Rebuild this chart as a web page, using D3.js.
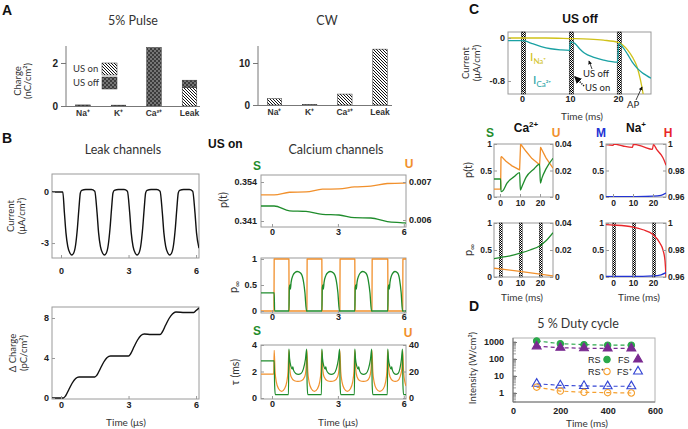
<!DOCTYPE html>
<html><head><meta charset="utf-8">
<script src="https://cdn.jsdelivr.net/npm/d3@7"></script>
<style>body{margin:0;background:#fff}svg{display:block}</style>
</head><body>
<svg id="c" width="688" height="429"></svg>
<script>
// ================= DATA =================
const ionCats = ["Na⁺","K⁺","Ca²⁺","Leak"];
const pulseUsOn  = [0, 0, 0, 0.87];
const pulseUsOff = [0.05, 0.04, 2.72, 0.33];
const cwUsOn  = [1.5, 0.08, 2.6, 13.3];
const cwUsOff = [0, 0, 0, 0];
const pulseTicks = [0, 2], cwTicks = [0, 10];

const usTimeTicks = [0, 3, 6];
const leakCurrent = [[-0.4,0],[0.08,0],[0.15,-1.2],[0.22,-2.4],[0.3,-3.2],[0.4,-3.6],[0.48,-3.7],[0.56,-3.6],[0.65,-3.1],[0.73,-2.1],[0.8,-0.9],[0.86,-0.05],[0.92,0.1],[1.1,0.15],[1.35,0.15],[1.5,0.05],[1.6,-1.2],[1.67,-2.4],[1.75,-3.2],[1.85,-3.6],[1.93,-3.7],[2.01,-3.6],[2.1,-3.1],[2.18,-2.1],[2.25,-0.9],[2.31,-0.05],[2.37,0.1],[2.55,0.15],[2.8,0.15],[2.95,0.05],[3.05,-1.2],[3.12,-2.4],[3.2,-3.2],[3.3,-3.6],[3.38,-3.7],[3.46,-3.6],[3.55,-3.1],[3.63,-2.1],[3.7,-0.9],[3.76,-0.05],[3.82,0.1],[4.0,0.15],[4.25,0.15],[4.4,0.05],[4.5,-1.2],[4.57,-2.4],[4.65,-3.2],[4.75,-3.6],[4.83,-3.7],[4.91,-3.6],[5.0,-3.1],[5.08,-2.1],[5.15,-0.9],[5.21,-0.05],[5.27,0.1],[5.45,0.15],[5.7,0.15],[5.85,0.05],[5.95,-1.2],[6.02,-2.4],[6.13,-3.3]];
const leakCharge = [[-0.4,0],[0.1,0],[0.2,0.2],[0.35,0.85],[0.5,1.5],[0.65,1.95],[0.8,2.1],[1.5,2.1],[1.6,2.3],[1.75,2.95],[1.9,3.6],[2.05,4.05],[2.2,4.2],[3.0,4.2],[3.1,4.45],[3.25,5.15],[3.4,5.8],[3.55,6.25],[3.7,6.4],[4.0,6.35],[4.4,6.35],[4.5,6.6],[4.65,7.3],[4.8,7.95],[4.95,8.4],[5.1,8.6],[5.5,8.55],[5.9,8.55],[6.0,8.75],[6.13,9.0]];

const caPtS = [[-0.5,0.346],[0.1,0.346],[0.8,0.3444],[1.55,0.3442],[2.3,0.3432],[3.05,0.343],[3.75,0.3421],[4.5,0.342],[5.25,0.3408],[5.95,0.3404],[6.1,0.3403]];
const caPtU = [[-0.5,0.00666],[0.1,0.00666],[0.8,0.00673],[1.55,0.00674],[2.3,0.00681],[3.05,0.00682],[3.75,0.00687],[4.5,0.00689],[5.25,0.00696],[5.95,0.00697],[6.1,0.00698]];
const caPinfU = [[-0.5,0],[0.09,0],[0.1,1],[0.77,1],[0.78,0],[1.59,0],[1.6,1],[2.27,1],[2.28,0],[3.09,0],[3.1,1],[3.77,1],[3.78,0],[4.55,0],[4.56,1],[5.27,1],[5.28,0],[5.95,0],[5.96,1],[6.1,1]];
const caPinfS = [[-0.5,0.35],[0.1,0.35],[0.12,0],[0.77,0],[0.79,0.45],[0.82,0.5],[0.84,0.42],[0.87,0.55],[0.95,0.68],[1.05,0.74],[1.15,0.76],[1.3,0.73],[1.42,0.6],[1.5,0.35],[1.57,0],[2.27,0],[2.29,0.45],[2.32,0.5],[2.34,0.42],[2.37,0.55],[2.45,0.68],[2.55,0.74],[2.65,0.76],[2.8,0.73],[2.92,0.6],[3.0,0.35],[3.07,0],[3.77,0],[3.79,0.45],[3.82,0.5],[3.84,0.42],[3.87,0.55],[3.95,0.68],[4.04,0.74],[4.13,0.76],[4.27,0.73],[4.38,0.6],[4.46,0.35],[4.53,0],[5.27,0],[5.29,0.45],[5.32,0.5],[5.34,0.42],[5.37,0.55],[5.44,0.68],[5.52,0.74],[5.6,0.76],[5.72,0.73],[5.81,0.6],[5.88,0.35],[5.94,0],[6.1,0]];
const caTauU = [[-0.5,18],[0.08,18],[0.1,36],[0.14,20],[0.2,12],[0.3,7],[0.44,5],[0.57,7],[0.67,12],[0.73,20],[0.77,36],[0.81,22],[0.87,16],[1.02,13],[1.18,12.5],[1.34,13],[1.49,16],[1.55,22],[1.59,36],[1.63,20],[1.69,12],[1.79,7],[1.93,5],[2.07,7],[2.17,12],[2.23,20],[2.27,36],[2.31,22],[2.37,16],[2.52,13],[2.68,12.5],[2.84,13],[2.99,16],[3.05,22],[3.09,36],[3.13,20],[3.19,12],[3.29,7],[3.43,5],[3.57,7],[3.67,12],[3.73,20],[3.77,36],[3.81,22],[3.87,16],[4.0,13],[4.16,12.5],[4.32,13],[4.45,16],[4.51,22],[4.55,36],[4.59,20],[4.65,12],[4.75,7],[4.91,5],[5.07,7],[5.17,12],[5.23,20],[5.27,36],[5.31,22],[5.37,16],[5.5,13],[5.61,12.5],[5.72,13],[5.83,16],[5.91,22],[5.95,36],[5.99,20],[6.05,12],[6.1,9]];
const caTauS = [[-0.5,2.8],[0.1,2.8],[0.12,1.0],[0.15,0.25],[0.75,0.25],[0.77,3.7],[0.8,3.0],[0.86,2.4],[0.92,2.2],[0.95,2.35],[0.98,2.1],[1.08,1.85],[1.2,1.78],[1.32,1.85],[1.43,2.2],[1.52,2.9],[1.58,3.7],[1.6,1.0],[1.63,0.25],[2.25,0.25],[2.27,3.7],[2.3,3.0],[2.36,2.4],[2.42,2.2],[2.45,2.35],[2.48,2.1],[2.58,1.85],[2.7,1.78],[2.82,1.85],[2.93,2.2],[3.02,2.9],[3.08,3.7],[3.1,1.0],[3.13,0.25],[3.75,0.25],[3.77,3.7],[3.8,3.0],[3.86,2.4],[3.92,2.2],[3.95,2.35],[3.98,2.1],[4.06,1.85],[4.17,1.78],[4.28,1.85],[4.39,2.2],[4.48,2.9],[4.54,3.7],[4.56,1.0],[4.59,0.25],[5.25,0.25],[5.27,3.7],[5.3,3.0],[5.36,2.4],[5.42,2.2],[5.45,2.35],[5.48,2.1],[5.56,1.85],[5.65,1.78],[5.74,1.85],[5.82,2.2],[5.89,2.9],[5.94,3.7],[5.96,1.0],[5.99,0.25],[6.1,0.25]];

const msTicks = [0, 10, 20];
const usBandTimes = [0, 10, 20];
const cCurrNa = [[-2.9,0],[5,0],[10,-0.01],[14,-0.02],[17,-0.04],[20,-0.08],[21,-0.13],[22,-0.22],[23,-0.35],[24,-0.54],[24.7,-0.78],[25.3,-1.06]];
const cCurrCa = [[-2.9,-0.05],[0,-0.05],[0.8,-0.06],[2,-0.1],[4,-0.16],[6,-0.2],[8,-0.22],[9.9,-0.23],[10.1,-0.07],[11,-0.1],[12,-0.2],[13,-0.28],[15,-0.36],[17,-0.41],[19.9,-0.45],[20.2,-0.1],[21,-0.17],[22,-0.3],[23,-0.45],[24,-0.56],[25,-0.64],[26,-0.7],[26.9,-0.75]];
const cCaPtS = [[-3,0.34],[0.3,0.34],[0.5,0.1],[1.5,0.12],[3.5,0.26],[7,0.38],[9.8,0.46],[10.2,0.13],[11,0.2],[13,0.37],[17,0.53],[19.8,0.62],[20.2,0.26],[21,0.36],[23,0.53],[26.5,0.73]];
const cCaPtU = [[-3,0.006],[0.3,0.006],[0.5,0.03],[0.8,0.0305],[3,0.027],[6,0.0235],[9.8,0.0205],[10.3,0.04],[13,0.0345],[16,0.029],[19.8,0.0243],[20.3,0.0375],[23,0.0295],[26.5,0.0217]];
const cNaPtM = [[-3.5,0.005],[10,0.008],[20,0.015],[24,0.03],[26.5,0.075]];
const cNaPtH = [[-3.5,0.9995],[0,0.999],[0.4,1.0],[5,0.9985],[9.7,0.9975],[10.2,0.9998],[15,0.998],[19.7,0.996],[20.2,0.9995],[22,0.9955],[24,0.992],[25.5,0.988],[26.5,0.984]];
const cCaPinfS = [[-3,0.34],[0,0.36],[5,0.39],[10,0.44],[15,0.5],[20,0.58],[23,0.67],[26.5,0.82]];
const cCaPinfU = [[-3,0.0065],[0,0.006],[10,0.0042],[20,0.0022],[26.5,0.0008]];
const cNaPinfM = [[-3.5,0.01],[10,0.01],[20,0.02],[24,0.04],[26.5,0.08]];
const cNaPinfH = [[-3.5,0.9988],[0,0.9985],[10,0.997],[15,0.995],[20,0.9915],[23.5,0.985],[25,0.98],[26,0.972],[26.5,0.96]];

const dutyTimes = [100, 200, 300, 400, 500];
const rsInt = [1150, 800, 700, 650, 650];
const fsInt = [560, 460, 430, 420, 420];
const rsPlusInt = [2.2, 1.3, 1.1, 1.05, 1.0];
const fsPlusInt = [3.5, 2.8, 2.6, 2.5, 2.5];
const dutyXTicks = [0, 200, 400, 600];
const dutyYTicks = [1, 10, 100, 1000];

// ================= STYLE =================
const FB = "'Liberation Sans', Arial, sans-serif";
const FL = "Lato, 'Open Sans', sans-serif";
const GREEN="#1f8c2c", ORANGE="#f1902c", RED="#e8262a", BLUE="#2233d4", YEL="#d0c21a", TEAL="#1aa1a3";

const svg = d3.select("#c");
svg.append("rect").attr("width",688).attr("height",429).attr("fill","#fff");
const defs = svg.append("defs");
{
  const p = defs.append("pattern").attr("id","hatchOn").attr("patternUnits","userSpaceOnUse").attr("width",3).attr("height",3);
  p.append("rect").attr("width",3).attr("height",3).attr("fill","#fff");
  p.append("path").attr("d","M0,0L3,3M-1,2L1,4M2,-1L4,1").attr("stroke","#111").attr("stroke-width",1);
  const q = defs.append("pattern").attr("id","offPat").attr("patternUnits","userSpaceOnUse").attr("width",4).attr("height",4);
  q.append("rect").attr("width",4).attr("height",4).attr("fill","#3c3c3c");
  q.append("rect").attr("width",2).attr("height",2).attr("fill","#767676");
  q.append("rect").attr("x",2).attr("y",2).attr("width",2).attr("height",2).attr("fill","#767676");
  const c = defs.append("pattern").attr("id","checker").attr("patternUnits","userSpaceOnUse").attr("width",2).attr("height",2);
  c.append("rect").attr("width",2).attr("height",2).attr("fill","#fff");
  c.append("rect").attr("width",1).attr("height",1).attr("fill","#000");
  c.append("rect").attr("x",1).attr("y",1).attr("width",1).attr("height",1).attr("fill","#000");
  const m = defs.append("marker").attr("id","arr").attr("viewBox","0 0 6 6").attr("refX",5).attr("refY",3)
    .attr("markerWidth",5).attr("markerHeight",5).attr("orient","auto");
  m.append("path").attr("d","M0,0L6,3L0,6z").attr("fill","#111");
}

function rich(x,y,parts,o={}){
  const t = svg.append("text").attr("x",x).attr("y",y).attr("font-family",o.family||FL)
    .attr("font-size",o.size||10).attr("fill",o.color||"#333").attr("font-weight",o.weight||"normal")
    .attr("text-anchor",o.anchor||"start");
  if(o.rotate) t.attr("transform",`rotate(-90,${x},${y})`);
  (typeof parts==="string"?[[parts]]:parts).forEach(p=>{
    const s=t.append("tspan").text(p[0]);
    if(p[1]){ if(p[1].dy!=null) s.attr("dy",p[1].dy); if(p[1].size) s.attr("font-size",p[1].size); if(p[1].weight) s.attr("font-weight",p[1].weight);}
  });
  return t;
}
let clipN=0;
function box(x0,y0,x1,y1,stroke){
  const id="cl"+(clipN++);
  defs.append("clipPath").attr("id",id).append("rect").attr("x",x0).attr("y",y0).attr("width",x1-x0).attr("height",y1-y0);
  svg.append("rect").attr("x",x0).attr("y",y0).attr("width",x1-x0).attr("height",y1-y0)
    .attr("fill","none").attr("stroke",stroke||"#9a9a9a").attr("stroke-width",1);
  return id;
}
function plot(data,xs,ys,color,clip,o={}){
  svg.append("path").datum(data).attr("fill","none").attr("stroke",color).attr("stroke-width",o.w||1.3)
    .attr("stroke-linejoin","round")
    .attr("clip-path",clip?`url(#${clip})`:null)
    .attr("d",d3.line().x(d=>xs(d[0])).y(d=>ys(d[1])).curve(o.curve||d3.curveMonotoneX));
}
function ax(kind,scale,tx,ty,vals,fmt,o={}){
  const gen = kind==="b"?d3.axisBottom:kind==="l"?d3.axisLeft:d3.axisRight;
  const a = gen(scale).tickValues(vals).tickFormat(fmt||(d=>String(d))).tickSizeInner(o.ts??-3).tickSizeOuter(0).tickPadding(o.pad??3);
  const g = svg.append("g").attr("transform",`translate(${tx},${ty})`).call(a);
  if(!o.domain) g.select(".domain").remove(); else g.select(".domain").attr("stroke","#555");
  g.selectAll("line").attr("stroke",o.tc||"#999");
  g.selectAll("text").attr("font-size",o.fs||9).attr("font-weight","bold").attr("fill","#222").attr("font-family",FB);
  return g;
}

// ================= PANEL LETTERS =================
[["A",2,15],["B",2,143],["C",469,14],["D",469,311]].forEach(d=>
  rich(d[1],d[2],d[0],{family:FB,weight:"bold",size:14,color:"#111"}));

// ================= PANEL A =================
function barChart(on,off,range,y0,yTop,ymax,ticks,axisX,baseEnd,title,titleX){
  const x = d3.scaleBand().domain(ionCats).range(range).paddingInner(0.59).paddingOuter(0.295);
  const y = d3.scaleLinear().domain([0,ymax]).range([y0,yTop]);
  const g = svg.append("g");
  g.selectAll(".on").data(ionCats).join("rect").attr("x",d=>x(d)).attr("width",x.bandwidth())
    .attr("y",(d,i)=>y(on[i])).attr("height",(d,i)=>y(0)-y(on[i]))
    .attr("fill","url(#hatchOn)").attr("stroke","#333").attr("stroke-width",0.5)
    .attr("display",(d,i)=>on[i]>0?null:"none");
  g.selectAll(".off").data(ionCats).join("rect").attr("x",d=>x(d)).attr("width",x.bandwidth())
    .attr("y",(d,i)=>y(on[i]+off[i])).attr("height",(d,i)=>y(on[i])-y(on[i]+off[i]))
    .attr("fill","url(#offPat)").attr("stroke","#333").attr("stroke-width",0.5)
    .attr("display",(d,i)=>off[i]>0?null:"none");
  svg.append("line").attr("x1",axisX).attr("x2",baseEnd).attr("y1",y0+0.5).attr("y2",y0+0.5).attr("stroke","#777");
  svg.append("line").attr("x1",axisX).attr("x2",axisX).attr("y1",yTop).attr("y2",y0).attr("stroke","#777");
  ax("l",y,axisX,0,ticks,null,{ts:5,pad:3,fs:10,tc:"#777"});
  g.selectAll(".cl").data(ionCats).join("text").attr("x",d=>x(d)+x.bandwidth()/2).attr("y",y0+10)
    .attr("text-anchor","middle").attr("font-family",FB).attr("font-weight","bold").attr("font-size",8.5).attr("fill","#333").text(d=>d);
  rich(titleX,25,title,{anchor:"middle",size:12.5,color:"#333"});
}
barChart(pulseUsOn,pulseUsOff,[65.25,207.25],106,46,2.79,pulseTicks,66,200,"5% Pulse",133);
barChart(cwUsOn,cwUsOff,[256.9,397.6],105,46,14.05,cwTicks,258,392,"CW",327);
rich(21,81,"Charge",{rotate:true,anchor:"middle",size:9.5});
rich(31,81,"(nC/cm²)",{rotate:true,anchor:"middle",size:9.5});
// legend
rich(73,72,"US on",{size:9.5});
rich(73,86,"US off",{size:9.5});
svg.append("rect").attr("x",102).attr("y",63).attr("width",15).attr("height",12).attr("fill","url(#hatchOn)").attr("stroke","#333").attr("stroke-width",0.5);
svg.append("rect").attr("x",102).attr("y",77).attr("width",15).attr("height",12).attr("fill","url(#offPat)").attr("stroke","#333").attr("stroke-width",0.5);

// ================= PANEL B left =================
rich(123,154,"Leak channels",{anchor:"middle",size:12.5});
const bxL = d3.scaleLinear().domain([-0.4,6.13]).range([52,199]);
const byCur = d3.scaleLinear().domain([-3.88,1.06]).range([258,174]);
const clB1 = box(52,174,199,258);
plot(leakCurrent,bxL,byCur,"#111",clB1,{w:1.4});
ax("b",bxL,0,258,usTimeTicks,null,{pad:10});
ax("l",byCur,52,0,[0,-3],d=>String(d),{pad:3});
rich(14,216,"Current",{rotate:true,anchor:"middle",size:9.5});
rich(25,216,"(μA/cm²)",{rotate:true,anchor:"middle",size:9.5});

const byChg = d3.scaleLinear().domain([-0.1,9.1]).range([399,307]);
const clB2 = box(52,307,199,399);
plot(leakCharge,bxL,byChg,"#111",clB2,{w:1.4});
ax("b",bxL,0,399,usTimeTicks,null,{pad:3});
ax("l",byChg,52,0,[0,4,8],null,{pad:3});
rich(16,353,"Δ Charge",{rotate:true,anchor:"middle",size:9.5});
rich(27,353,"(pC/cm²)",{rotate:true,anchor:"middle",size:9.5});
rich(126,426,"Time (μs)",{anchor:"middle",size:10});

// ================= PANEL B right =================
rich(208,148,"US on",{family:FB,weight:"bold",size:12,color:"#111"});
rich(336,154,"Calcium channels",{anchor:"middle",size:12.5});
const bxR = d3.scaleLinear().domain([-0.5,6.1]).range([261,406]);
// chart 1
const yS1 = d3.scaleLinear().domain([0.341,0.354]).range([221,182]);
const yU1 = d3.scaleLinear().domain([0.006,0.007]).range([220,182]);
const cl1 = box(261,175,406,227);
plot(caPtU,bxR,yU1,ORANGE,cl1);
plot(caPtS,bxR,yS1,GREEN,cl1);
ax("b",bxR,0,227,usTimeTicks,null,{pad:2});
ax("l",yS1,261,0,[0.341,0.354],d3.format(".3f"),{pad:4});
ax("r",yU1,406,0,[0.006,0.007],d3.format(".3f"),{pad:3});
rich(257,170,"S",{family:FB,weight:"bold",size:12,color:GREEN,anchor:"middle"});
rich(409,168,"U",{family:FB,weight:"bold",size:12,color:ORANGE,anchor:"middle"});
rich(227,200,"p(t)",{rotate:true,anchor:"middle",size:11});
// chart 2
const yP2 = d3.scaleLinear().domain([0,1]).range([311,259]);
const cl2 = box(261,258,406,313);
plot(caPinfU,bxR,yP2,ORANGE,cl2,{curve:d3.curveLinear});
plot(caPinfS,bxR,yP2,GREEN,cl2);
ax("b",bxR,0,313,usTimeTicks,null,{pad:1});
ax("l",yP2,261,0,[0,0.5,1],null,{pad:4});
rich(237,287,[["p"],["∞",{dy:3,size:8}]],{rotate:true,anchor:"middle",size:11});
// chart 3
const yT3 = d3.scaleLinear().domain([0,4]).range([398,345]);
const yT3r = d3.scaleLinear().domain([0,40]).range([398,345]);
const cl3 = box(261,345,406,399);
plot(caTauU,bxR,yT3r,ORANGE,cl3,{w:1.2});
plot(caTauS,bxR,yT3,GREEN,cl3,{w:1.2});
ax("b",bxR,0,399,usTimeTicks,null,{pad:2});
ax("l",yT3,261,0,[0,2,4],null,{pad:4});
ax("r",yT3r,406,0,[0,20,40],null,{pad:3});
rich(257,335,"S",{family:FB,weight:"bold",size:12,color:GREEN,anchor:"middle"});
rich(408,337,"U",{family:FB,weight:"bold",size:12,color:ORANGE,anchor:"middle"});
rich(239,372,"τ (ms)",{rotate:true,anchor:"middle",size:10.5});
rich(338,426,"Time (μs)",{anchor:"middle",size:10});

// ================= PANEL C =================
rich(580,23,"US off",{family:FB,weight:"bold",size:12,color:"#111",anchor:"middle"});
const cxC = d3.scaleLinear().domain([-2.92,26.9]).range([508,651]);
const cyC = d3.scaleLinear().domain([-1.042,0.112]).range([94,32]);
const clC = box(508,32,651,94);
svg.append("g").selectAll("rect").data(usBandTimes).join("rect")
  .attr("x",d=>cxC(d-0.15)).attr("width",d=>cxC(d+0.75)-cxC(d-0.15)).attr("y",32).attr("height",62)
  .attr("fill","url(#checker)").attr("stroke","#111").attr("stroke-width",0.5);
plot(cCurrNa,cxC,cyC,YEL,clC);
plot(cCurrCa,cxC,cyC,TEAL,clC);
ax("b",cxC,0,94,msTicks,null,{pad:2});
ax("l",cyC,508,0,[0,-0.8],d=>d===0?"0":"-0.8",{pad:3});
rich(469,63,"Current",{rotate:true,anchor:"middle",size:9.5});
rich(480,63,"(μA/cm²)",{rotate:true,anchor:"middle",size:9.5});
rich(582,120,"Time (ms)",{anchor:"middle",size:10});
rich(530,61,[["I"],["Na⁺",{dy:3,size:8}]],{size:12,color:YEL});
rich(533,84,[["I"],["Ca²⁺",{dy:3,size:8}]],{size:12,color:TEAL});
rich(583,77,"US off",{size:9.5,color:"#222"});
rich(585,91,"US on",{size:9.5,color:"#222"});
rich(627,108,"AP",{size:9.5,color:"#222"});
svg.append("line").attr("x1",592).attr("y1",69).attr("x2",589).attr("y2",61).attr("stroke","#111").attr("stroke-width",0.8).attr("marker-end","url(#arr)");
svg.append("line").attr("x1",584).attr("y1",86).attr("x2",575).attr("y2",77).attr("stroke","#111").attr("stroke-width",1.5).attr("stroke-dasharray","1.2,1.2").attr("marker-end","url(#arr)");
svg.append("line").attr("x1",636).attr("y1",100).attr("x2",642).attr("y2",87).attr("stroke","#111").attr("stroke-width",0.8).attr("marker-end","url(#arr)");

// small charts
rich(526,132,[["Ca"],["2+",{dy:-5,size:8}]],{family:FB,weight:"bold",size:12,color:"#111",anchor:"middle"});
rich(636,132,[["Na"],["+",{dy:-5,size:8}]],{family:FB,weight:"bold",size:12,color:"#111",anchor:"middle"});
rich(490,137,"S",{family:FB,weight:"bold",size:12,color:GREEN,anchor:"middle"});
rich(556,137,"U",{family:FB,weight:"bold",size:12,color:ORANGE,anchor:"middle"});
rich(601,137,"M",{family:FB,weight:"bold",size:12,color:BLUE,anchor:"middle"});
rich(668,137,"H",{family:FB,weight:"bold",size:12,color:RED,anchor:"middle"});

const cxCa = d3.scaleLinear().domain([-3,26.5]).range([494,553]);
const cxNa = d3.scaleLinear().domain([-3.5,26.5]).range([606,666]);
const yPt = d3.scaleLinear().domain([0,1]).range([197,144]);
const yPtCa = d3.scaleLinear().domain([0,0.04]).range([197,144]);
const yPtNa = d3.scaleLinear().domain([0.96,1]).range([197,144]);
const yPi = d3.scaleLinear().domain([0,1]).range([277,223]);
const yPiCa = d3.scaleLinear().domain([0,0.04]).range([277,223]);
const yPiNa = d3.scaleLinear().domain([0.96,1]).range([277,223]);
const fmtR = d=>String(d);
// Ca p(t)
let cl = box(494,144,553,197);
plot(cCaPtU,cxCa,yPtCa,ORANGE,cl,{curve:d3.curveLinear});
plot(cCaPtS,cxCa,yPt,GREEN,cl);
ax("b",cxCa,0,197,msTicks,null,{pad:3,fs:8.5});
ax("l",yPt,494,0,[0,0.5,1],null,{pad:2,fs:8.5});
ax("r",yPtCa,553,0,[0,0.02,0.04],fmtR,{pad:2,fs:8.5});
rich(472,170,"p(t)",{rotate:true,anchor:"middle",size:11});
// Na p(t)
cl = box(606,144,666,197);
plot(cNaPtH,cxNa,yPtNa,RED,cl);
plot(cNaPtM,cxNa,yPt,BLUE,cl);
ax("b",cxNa,0,197,msTicks,null,{pad:3,fs:8.5});
ax("l",yPt,606,0,[0,0.5,1],null,{pad:2,fs:8.5});
ax("r",yPtNa,666,0,[0.96,0.98,1],fmtR,{pad:2,fs:8.5});
// Ca p_inf
cl = box(494,223,553,277);
svg.append("g").selectAll("rect").data(usBandTimes).join("rect")
  .attr("x",d=>cxCa(d-0.4)).attr("width",d=>cxCa(d+1.1)-cxCa(d-0.4)).attr("y",223).attr("height",54)
  .attr("fill","url(#checker)").attr("stroke","#111").attr("stroke-width",0.4);
plot(cCaPinfU,cxCa,yPiCa,ORANGE,cl);
plot(cCaPinfS,cxCa,yPi,GREEN,cl);
ax("b",cxCa,0,277,msTicks,null,{pad:3,fs:8.5});
ax("l",yPi,494,0,[0,0.5,1],null,{pad:2,fs:8.5});
ax("r",yPiCa,553,0,[0,0.02,0.04],fmtR,{pad:2,fs:8.5});
rich(472,250,[["p"],["∞",{dy:3,size:8}]],{rotate:true,anchor:"middle",size:11});
rich(522,301,"Time (ms)",{anchor:"middle",size:10});
// Na p_inf
cl = box(606,223,666,277);
svg.append("g").selectAll("rect").data(usBandTimes).join("rect")
  .attr("x",d=>cxNa(d-0.2)).attr("width",d=>cxNa(d+1.3)-cxNa(d-0.2)).attr("y",223).attr("height",54)
  .attr("fill","url(#checker)").attr("stroke","#111").attr("stroke-width",0.4);
plot(cNaPinfH,cxNa,yPiNa,RED,cl);
plot(cNaPinfM,cxNa,yPi,BLUE,cl);
ax("b",cxNa,0,277,msTicks,null,{pad:3,fs:8.5});
ax("l",yPi,606,0,[0,0.5,1],null,{pad:2,fs:8.5});
ax("r",yPiNa,666,0,[0.96,0.98,1],fmtR,{pad:2,fs:8.5});
rich(639,301,"Time (ms)",{anchor:"middle",size:10});

// ================= PANEL D =================
rich(578,328,"5 % Duty cycle",{anchor:"middle",size:12.5});
const dx = d3.scaleLinear().domain([0,600]).range([513,655]);
const dy = d3.scaleLog().domain([0.2955,1718]).range([402,338]);
box(513,338,655,402,"#b0b0b0");
svg.append("line").attr("x1",513).attr("x2",655).attr("y1",402).attr("y2",402).attr("stroke","#777");
svg.append("line").attr("x1",513).attr("x2",513).attr("y1",338).attr("y2",402).attr("stroke","#777");
const minor = dy.ticks(20).filter(v=>v>=0.3&&v<=1700);
svg.append("g").selectAll("line").data(minor).join("line").attr("x1",513).attr("x2",516)
  .attr("y1",d=>dy(d)).attr("y2",d=>dy(d)).attr("stroke","#777").attr("stroke-width",0.7);
ax("b",dx,0,402,dutyXTicks,null,{pad:6,ts:0});
ax("l",dy,513,0,dutyYTicks,d3.format("d"),{pad:9,ts:-4,tc:"#777"});
rich(476,368,"Intensity (W/cm²)",{rotate:true,anchor:"middle",size:9.5});
rich(587,427,"Time (ms)",{anchor:"middle",size:10});
const series = [
  {v:rsInt,c:"#2aa84a",shape:"circle",fill:true},
  {v:fsInt,c:"#7a2a90",shape:"tri",fill:true},
  {v:fsPlusInt,c:"#3344d4",shape:"tri",fill:false},
  {v:rsPlusInt,c:"#f5a030",shape:"circle",fill:false}];
const sym = {circle:d3.symbol().type(d3.symbolCircle).size(32), tri:d3.symbol().type(d3.symbolTriangle).size(34)};
series.forEach(s=>{
  const pts = dutyTimes.map((t,i)=>[t,s.v[i]]);
  svg.append("path").datum(pts).attr("fill","none").attr("stroke",s.c).attr("stroke-width",1.2)
    .attr("stroke-dasharray","4,3").attr("d",d3.line().x(d=>dx(d[0])).y(d=>dy(d[1])));
  svg.append("g").selectAll("path").data(pts).join("path")
    .attr("transform",d=>`translate(${dx(d[0])},${dy(d[1])})`).attr("d",sym[s.shape])
    .attr("fill",s.fill?s.c:"none").attr("stroke",s.c).attr("stroke-width",1.1);
});
const leg = [["RS",588,363,series[0]],["FS",618,363,series[1]],["RS⁺",588,375,series[3]],["FS⁺",617,375,series[2]]];
leg.forEach(l=>{
  rich(l[1],l[2],l[0],{family:FB,size:9,color:"#222"});
  const sx = l[0].startsWith("RS")?607:638;
  svg.append("path").attr("transform",`translate(${sx},${l[2]-3.5})`).attr("d",sym[l[3].shape])
    .attr("fill",l[3].fill?l[3].c:"none").attr("stroke",l[3].c).attr("stroke-width",1.1);
});
</script>
</body></html>
